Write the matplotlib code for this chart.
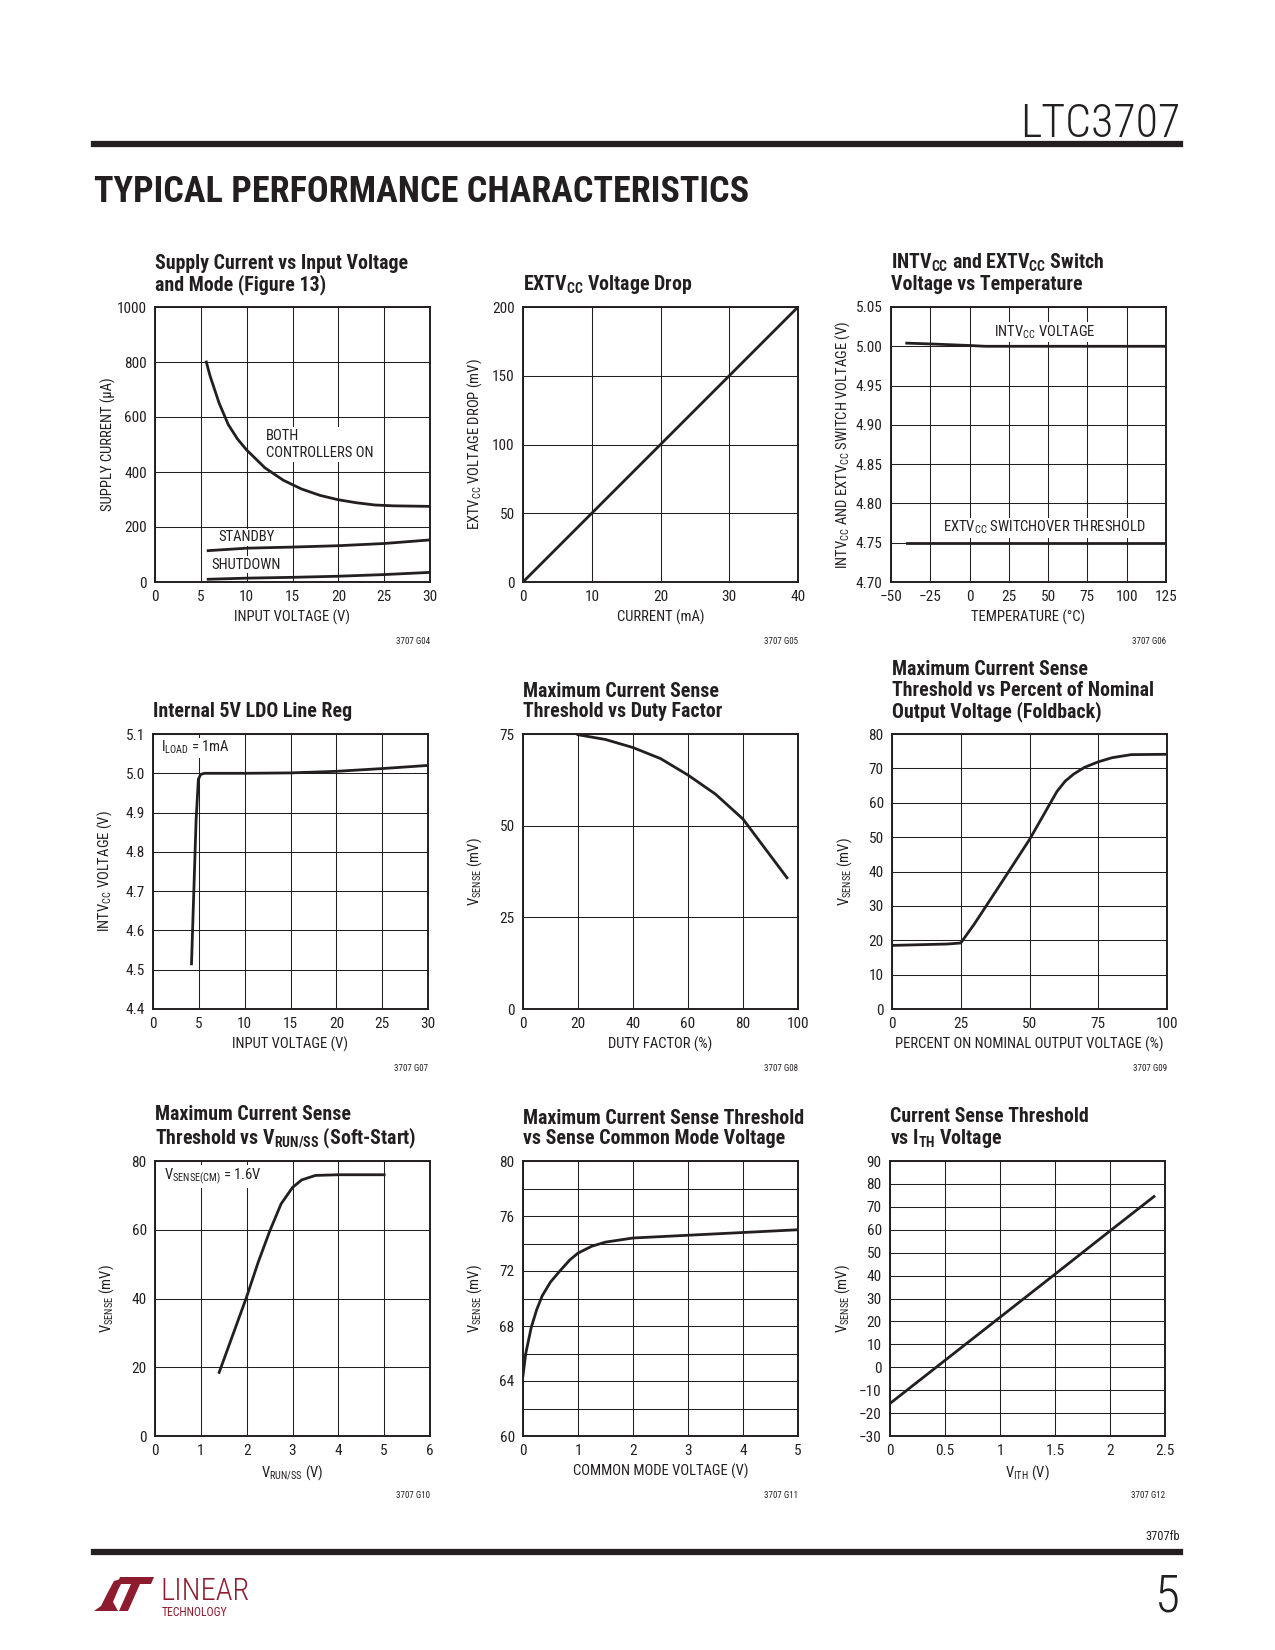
import matplotlib
matplotlib.use("Agg")
import matplotlib.pyplot as plt
from matplotlib.ticker import FormatStrFormatter, MultipleLocator
from matplotlib.patches import Polygon

plt.rcParams['font.family'] = ['Roboto Condensed', 'DejaVu Sans']
plt.rcParams['font.stretch'] = 'condensed'
plt.rcParams['mathtext.default'] = 'regular'
INK = '#231f20'
RED = '#8c1c2e'

# G04 supply current vs input voltage
g04_x_on = [5.6, 6, 7, 8, 9, 10, 12, 14, 16, 18, 20, 22, 24, 26, 28, 30]
g04_y_on = [800, 750, 650, 572, 520, 480, 415, 370, 338, 315, 299, 288, 280, 277, 276, 275]
g04_x_sb = [5.8, 10, 15, 20, 25, 30]
g04_y_sb = [114, 123, 127, 132, 140, 153]
g04_x_sd = [5.8, 10, 15, 20, 25, 30]
g04_y_sd = [10, 14, 17, 21, 27, 35]

# G05 EXTVcc voltage drop
g05_x = [0, 10, 20, 30, 40]
g05_y = [0, 50, 100, 150, 200]

# G06 switch voltage vs temperature
g06_x_int = [-40, -25, 0, 10, 25, 50, 75, 100, 125]
g06_y_int = [5.004, 5.003, 5.001, 5.0, 5.0, 5.0, 5.0, 5.0, 5.0]
g06_x_ext = [-40, 125]
g06_y_ext = [4.75, 4.75]

# G07 LDO line reg
g07_x = [4.2, 4.7, 4.95, 5.2, 5.6, 10, 15, 20, 25, 30]
g07_y = [4.515, 4.88, 4.985, 4.997, 5.0, 5.0, 5.001, 5.005, 5.012, 5.02]

# G08 threshold vs duty factor
g08_x = [20, 30, 40, 50, 60, 70, 80, 88, 96]
g08_y = [74.8, 73.5, 71.3, 68.3, 63.8, 58.6, 51.8, 43.8, 35.8]

# G09 foldback
g09_x = [0, 10, 20, 25, 30, 40, 50, 60, 63, 66, 70, 75, 80, 87, 100]
g09_y = [18.5, 18.7, 18.9, 19.2, 24.8, 37.0, 49.3, 63.3, 66.3, 68.3, 70.3, 71.9, 73.1, 74.0, 74.1]

# G10 soft-start
g10_x = [1.4, 1.7, 2.0, 2.25, 2.5, 2.75, 3.0, 3.2, 3.5, 4.0, 5.0]
g10_y = [18.5, 29.5, 40.5, 50.5, 59.5, 67.5, 72.3, 74.5, 75.8, 76.0, 76.0]

# G11 common mode voltage
g11_x = [0, 0.05, 0.15, 0.25, 0.35, 0.5, 0.67, 0.85, 1.0, 1.25, 1.5, 2, 3, 4, 5]
g11_y = [64.4, 66.0, 67.9, 69.2, 70.2, 71.2, 72.0, 72.8, 73.3, 73.8, 74.1, 74.4, 74.6, 74.8, 75.0]

# G12 ITH voltage
g12_x = [0, 0.5, 1, 1.5, 2, 2.4]
g12_y = [-15.8, 3.0, 21.8, 40.6, 59.5, 74.5]

W, H = 1275, 1650
fig = plt.figure(figsize=(W / 100, H / 100), dpi=100)
fig.patch.set_facecolor('white')

LBL = 10.5
BOX = dict(facecolor='white', edgecolor='none', pad=1.0)


def make_ax(left, top, title, xlim, ylim, xticks, yticks, xlabel, ylabel, code,
            yfmt=None, yminor=None):
    ax = fig.add_axes([left / W, 1 - (top + 275) / H, 275 / W, 275 / H])
    ax.set_xlim(xlim)
    ax.set_ylim(ylim)
    ax.set_xticks(xticks)
    ax.set_yticks(yticks)
    if yminor:
        ax.yaxis.set_minor_locator(MultipleLocator(yminor))
    if yfmt:
        ax.yaxis.set_major_formatter(FormatStrFormatter(yfmt))
    ax.grid(True, which='both', color=INK, linewidth=0.75)
    ax.tick_params(which='both', length=0, pad=6, labelsize=11, colors=INK)
    for s in ax.spines.values():
        s.set_linewidth(1.4)
        s.set_color(INK)
    ax.set_title(title, loc='left', pad=12, fontsize=14.3, fontweight='bold',
                 color=INK, linespacing=1.1)
    ax.set_xlabel(xlabel, fontsize=LBL, color=INK)
    ax.set_ylabel(ylabel, fontsize=LBL, color=INK)
    ax.xaxis.set_label_coords(0.5, -0.10)
    ax.yaxis.set_label_coords(-0.14, 0.5)
    ax.text(1.0, -0.218, code, transform=ax.transAxes, ha='right', va='center',
            fontsize=6.5, color=INK)
    return ax


lw = 2.0
c1, c2, c3 = 155, 523, 891
r1, r2, r3 = 307, 734, 1161

ax = make_ax(c1, r1, 'Supply Current vs Input Voltage\nand Mode (Figure 13)',
             (0, 30), (0, 1000), range(0, 31, 5), range(0, 1001, 200),
             'INPUT VOLTAGE (V)', 'SUPPLY CURRENT (µA)', '3707 G04')
ax.plot(g04_x_on, g04_y_on, color=INK, lw=lw)
ax.plot(g04_x_sb, g04_y_sb, color=INK, lw=lw)
ax.plot(g04_x_sd, g04_y_sd, color=INK, lw=lw)
ax.text(12.1, 500, 'BOTH\nCONTROLLERS ON', fontsize=LBL, color=INK, va='center',
        linespacing=1.3, bbox=BOX)
ax.text(6.9, 162, 'STANDBY', fontsize=LBL, color=INK, va='center', bbox=BOX)
ax.text(6.1, 63, 'SHUTDOWN', fontsize=LBL, color=INK, va='center', bbox=BOX)

ax = make_ax(c2, r1, r'EXTV$_{CC}$ Voltage Drop',
             (0, 40), (0, 200), range(0, 41, 10), range(0, 201, 50),
             'CURRENT (mA)', r'EXTV$_{CC}$ VOLTAGE DROP (mV)', '3707 G05')
ax.plot(g05_x, g05_y, color=INK, lw=lw)

ax = make_ax(c3, r1, 'INTV$_{CC}$ and EXTV$_{CC}$ Switch\nVoltage vs Temperature',
             (-50, 125), (4.70, 5.05), range(-50, 126, 25),
             [4.70, 4.75, 4.80, 4.85, 4.90, 4.95, 5.00, 5.05],
             'TEMPERATURE (°C)', r'INTV$_{CC}$ AND EXTV$_{CC}$ SWITCH VOLTAGE (V)',
             '3707 G06', yfmt='%.2f')
ax.plot(g06_x_int, g06_y_int, color=INK, lw=lw)
ax.plot(g06_x_ext, g06_y_ext, color=INK, lw=lw)
ax.text(48, 5.018, r'INTV$_{CC}$ VOLTAGE', fontsize=LBL, color=INK, ha='center',
        va='center', bbox=BOX)
ax.text(47.7, 4.769, r'EXTV$_{CC}$ SWITCHOVER THRESHOLD', fontsize=LBL, color=INK,
        ha='center', va='center', bbox=BOX)

ax = make_ax(c1 - 2, r2, 'Internal 5V LDO Line Reg',
             (0, 30), (4.4, 5.1), range(0, 31, 5),
             [4.4, 4.5, 4.6, 4.7, 4.8, 4.9, 5.0, 5.1],
             'INPUT VOLTAGE (V)', r'INTV$_{CC}$ VOLTAGE (V)', '3707 G07', yfmt='%.1f')
ax.plot(g07_x, g07_y, color=INK, lw=lw)
ax.text(0.9, 5.065, r'I$_{LOAD}$ = 1mA', fontsize=LBL, color=INK, va='center', bbox=BOX)

ax = make_ax(c2, r2, 'Maximum Current Sense\nThreshold vs Duty Factor',
             (0, 100), (0, 75), range(0, 101, 20), [0, 25, 50, 75],
             'DUTY FACTOR (%)', r'V$_{SENSE}$ (mV)', '3707 G08')
ax.plot(g08_x, g08_y, color=INK, lw=lw)

ax = make_ax(c3 + 1, r2, 'Maximum Current Sense\nThreshold vs Percent of Nominal\nOutput Voltage (Foldback)',
             (0, 100), (0, 80), range(0, 101, 25), range(0, 81, 10),
             'PERCENT ON NOMINAL OUTPUT VOLTAGE (%)', r'V$_{SENSE}$ (mV)', '3707 G09')
ax.plot(g09_x, g09_y, color=INK, lw=lw)

ax = make_ax(c1, r3, 'Maximum Current Sense\nThreshold vs V$_{RUN/SS}$ (Soft-Start)',
             (0, 6), (0, 80), range(0, 7), range(0, 81, 20),
             r'V$_{RUN/SS}$ (V)', r'V$_{SENSE}$ (mV)', '3707 G10')
ax.plot(g10_x, g10_y, color=INK, lw=lw)
ax.text(0.2, 75.5, r'V$_{SENSE(CM)}$ = 1.6V', fontsize=LBL, color=INK, va='center', bbox=BOX)

ax = make_ax(c2, r3, 'Maximum Current Sense Threshold\nvs Sense Common Mode Voltage',
             (0, 5), (60, 80), range(0, 6), range(60, 81, 4),
             'COMMON MODE VOLTAGE (V)', r'V$_{SENSE}$ (mV)', '3707 G11', yminor=2)
ax.plot(g11_x, g11_y, color=INK, lw=lw)

ax = make_ax(c3 - 1, r3, 'Current Sense Threshold\nvs I$_{TH}$ Voltage',
             (0, 2.5), (-30, 90), [0, 0.5, 1, 1.5, 2, 2.5], range(-30, 91, 10),
             r'V$_{ITH}$ (V)', r'V$_{SENSE}$ (mV)', '3707 G12')
ax.xaxis.set_major_formatter(FormatStrFormatter('%g'))
ax.plot(g12_x, g12_y, color=INK, lw=lw)

# page header
fig.text(1180 / W, 1 - 137 / H, 'LTC3707', ha='right', va='baseline', fontsize=33,
         fontweight='light', color=INK)
fig.add_artist(plt.Line2D([94 / W, 1180 / W], [1 - 144 / H] * 2, color=INK, lw=4.5))
fig.text(94 / W, 1 - 202 / H, 'TYPICAL PERFORMANCE CHARACTERISTICS', ha='left', va='baseline',
         fontsize=26, fontweight='black', color=INK)

# page footer
fig.text(1180 / W, 1 - 1537 / H, '3707fb', ha='right', va='center', fontsize=9, color=INK)
fig.add_artist(plt.Line2D([94 / W, 1180 / W], [1 - 1552 / H] * 2, color=INK, lw=4.5))
fig.text(1180 / W, 1 - 1612 / H, '5', ha='right', va='baseline', fontsize=37,
         fontweight='light', color=INK)

logo_a = [(94, 1611), (101, 1606), (108, 1592), (114, 1581), (124, 1578), (118, 1590),
          (113, 1602), (118, 1611)]
logo_b = [(120, 1577), (154, 1577), (151, 1584), (140, 1584), (128, 1611), (119, 1611),
          (131, 1584), (117, 1584)]
for pts in (logo_a, logo_b):
    fig.add_artist(Polygon([(x / W, 1 - y / H) for x, y in pts], closed=True,
                           transform=fig.transFigure, facecolor=RED, edgecolor='none'))
fig.text(160 / W, 1 - 1600 / H, 'LINEAR', ha='left', va='baseline', fontsize=22,
         fontweight='light', color=RED)
fig.text(162 / W, 1 - 1616 / H, 'TECHNOLOGY', ha='left', va='baseline', fontsize=8.5,
         fontstretch='normal', color=RED)

fig.savefig('out.png', dpi=100, facecolor='white')
